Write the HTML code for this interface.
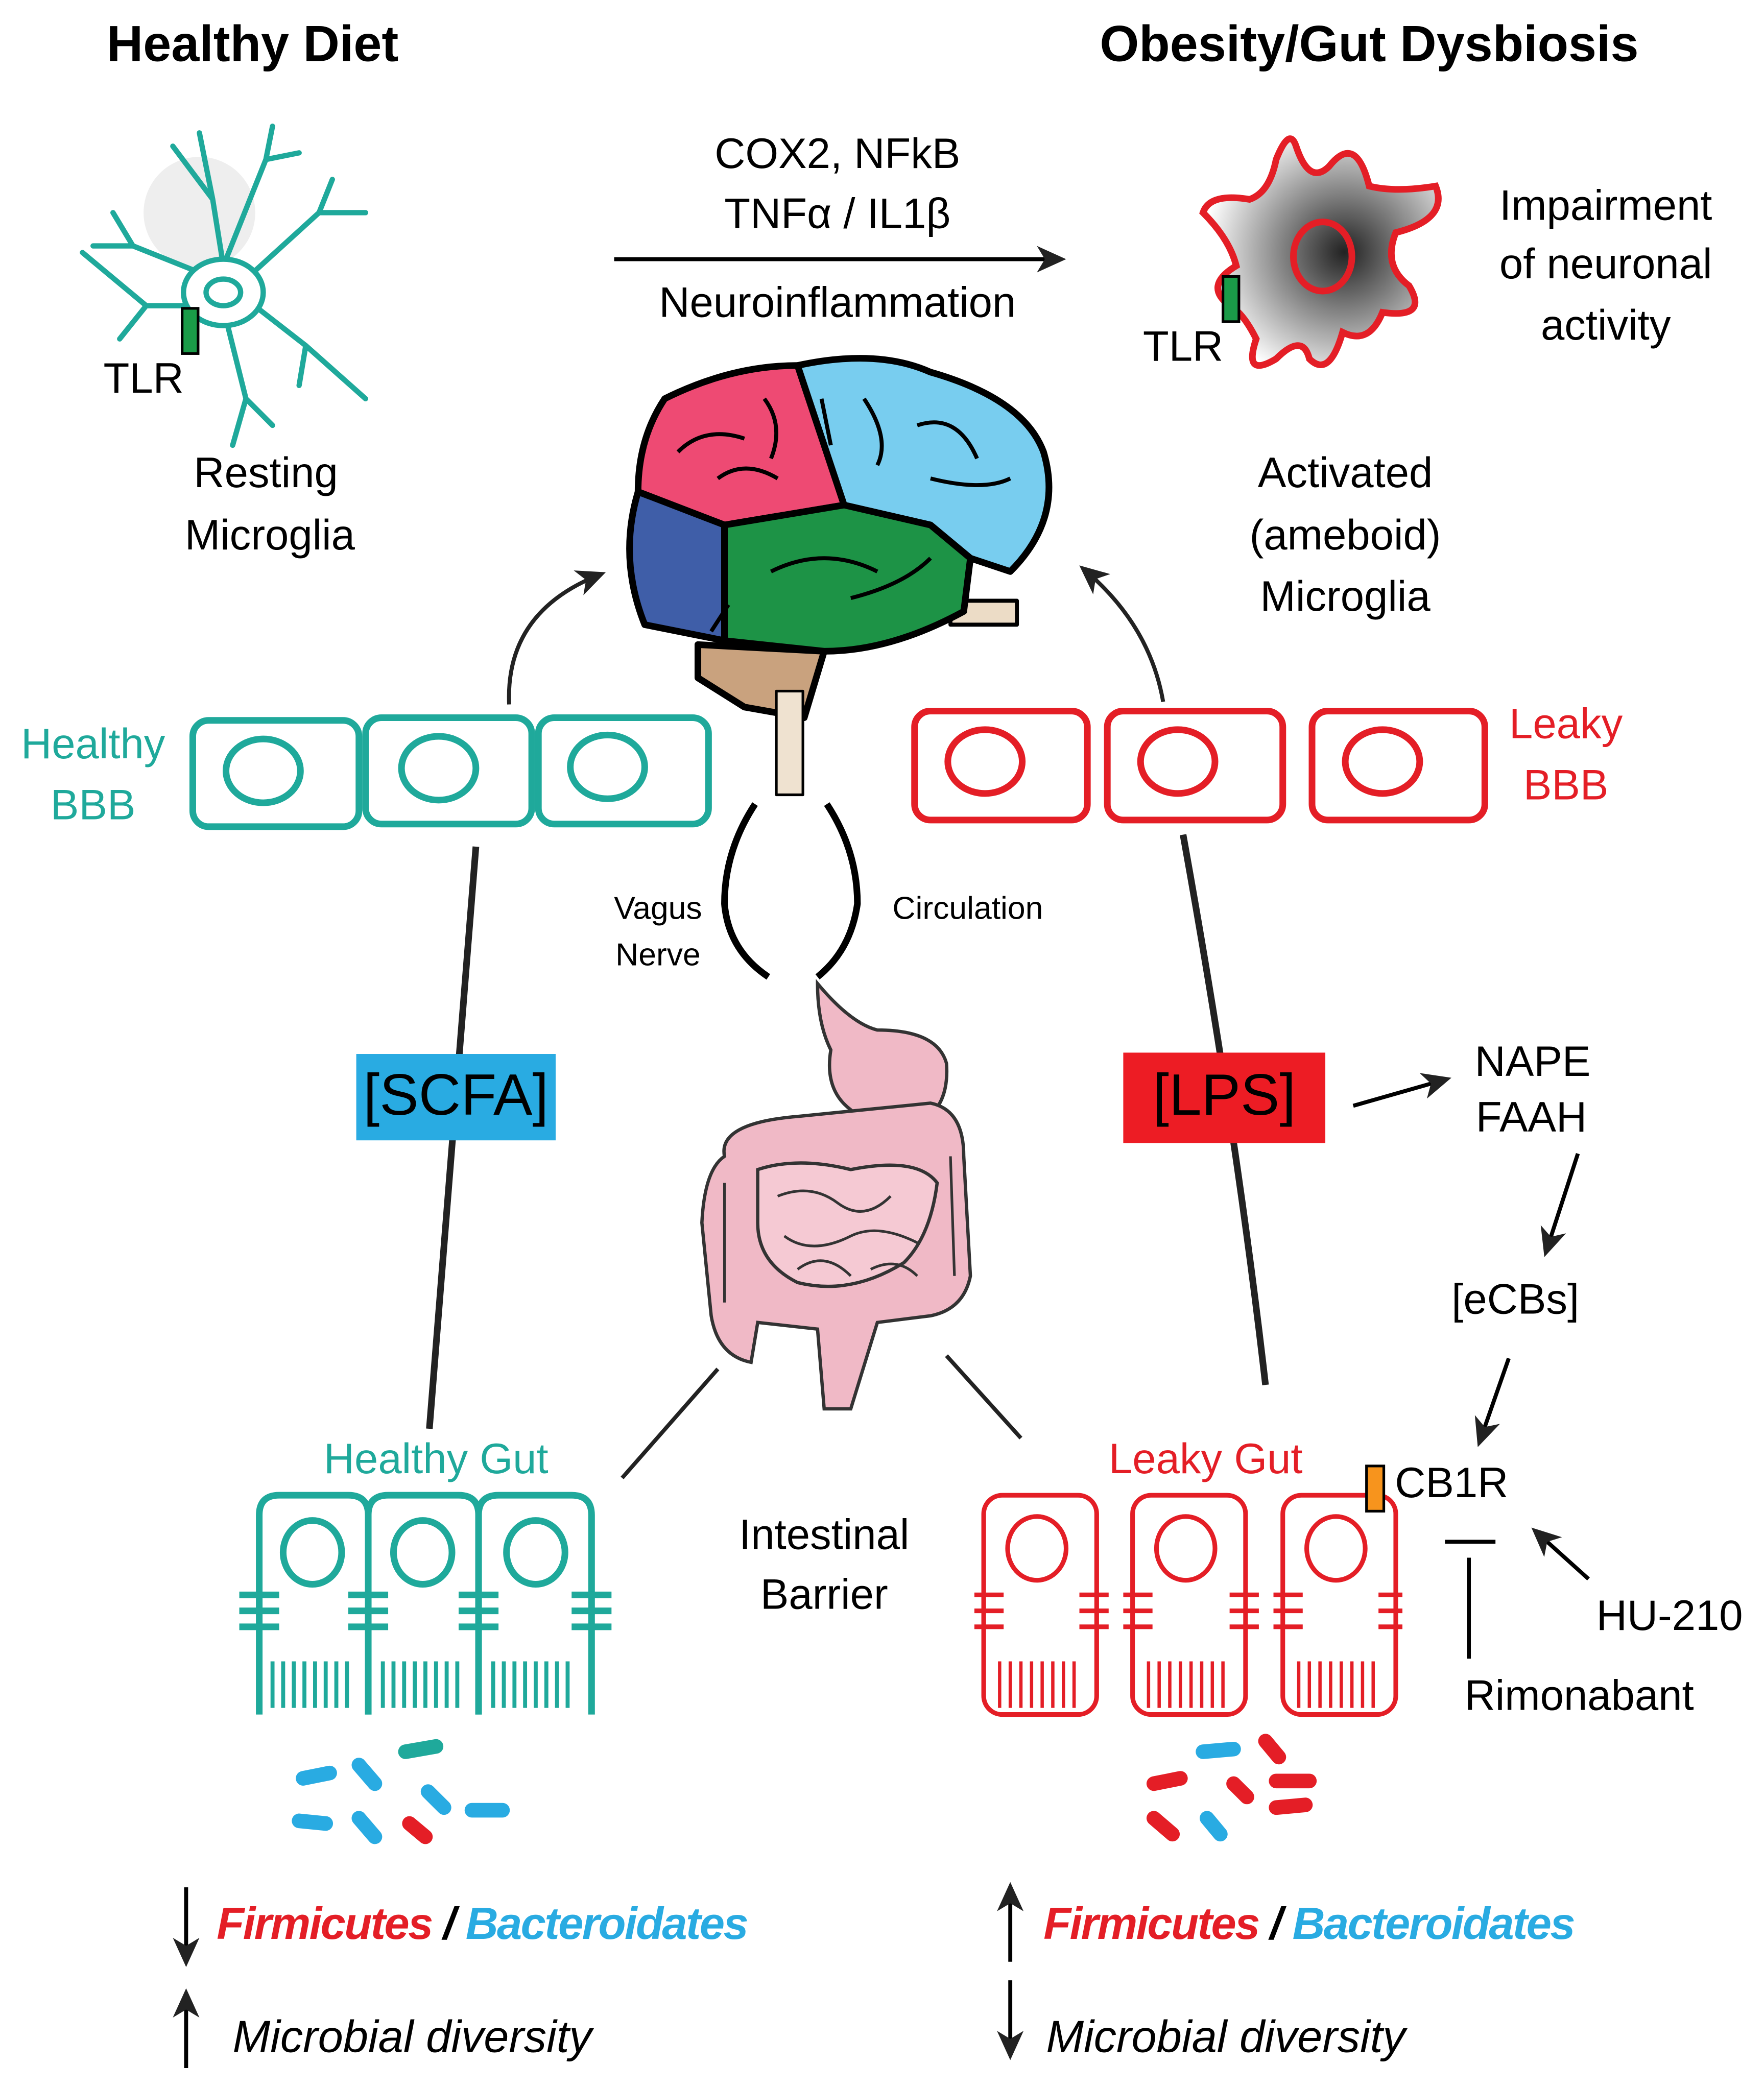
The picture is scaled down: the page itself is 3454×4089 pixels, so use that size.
<!DOCTYPE html>
<html><head><meta charset="utf-8"><style>html,body{margin:0;padding:0;background:#fff}svg{display:block}text{font-family:"Liberation Sans",sans-serif}</style></head><body>
<svg width="3454" height="4089" viewBox="0 0 1327 1571" xmlns="http://www.w3.org/2000/svg">
<defs>
<marker id="ah2" markerWidth="22" markerHeight="22" refX="18" refY="11" orient="auto" markerUnits="userSpaceOnUse" viewBox="0 0 22 22"><path d="M0,1 L22,11 L0,21 L6,11 z" fill="#222"/></marker>
<radialGradient id="gg" cx="0.6" cy="0.5" r="0.6"><stop offset="0" stop-color="#222"/><stop offset="1" stop-color="#fff"/></radialGradient>
</defs>
<g fill="#000">
<text x="190" y="46" font-size="38" font-weight="bold" text-anchor="middle">Healthy Diet</text>
<text x="1030" y="46" font-size="38" font-weight="bold" text-anchor="middle">Obesity/Gut Dysbiosis</text>
<g font-size="32" text-anchor="middle" dominant-baseline="middle">
<text x="630" y="118">COX2, NFkB</text>
<text x="630" y="163">TNFα / IL1β</text>
<text x="630" y="230">Neuroinflammation</text>
<text x="108" y="287">TLR</text>
<text x="200" y="358">Resting</text><text x="203" y="405">Microglia</text>
<text x="890" y="263">TLR</text>
<text x="1208" y="157">Impairment</text><text x="1208" y="201">of neuronal</text><text x="1208" y="247">activity</text>
<text x="1012" y="358">Activated</text><text x="1012" y="405">(ameboid)</text><text x="1012" y="451">Microglia</text>
<text x="620" y="1157">Intestinal</text><text x="620" y="1202">Barrier</text>
<text x="1153" y="801">NAPE</text><text x="1152" y="843">FAAH</text>
<text x="1140" y="980">[eCBs]</text>
<text x="1092" y="1118">CB1R</text>
<text x="1256" y="1218">HU-210</text>
<text x="1188" y="1278">Rimonabant</text>
</g>
<g font-size="24" text-anchor="middle" dominant-baseline="middle">
<text x="495" y="685">Vagus</text><text x="495" y="720">Nerve</text>
<text x="728" y="685">Circulation</text>
</g>
</g>
<line x1="462" y1="195" x2="798" y2="195" stroke="#000" stroke-width="3" marker-end="url(#ah2)"/>
<g stroke="#1fa99b" stroke-width="4" fill="none" stroke-linecap="round">
<circle cx="150" cy="160" r="42" fill="#eee" stroke="none"/>
<path d="M168,200 L160,150 L130,110 M160,150 L150,100 M168,200 L200,120 L205,95 M200,120 L225,115 M185,210 L240,160 L275,160 M240,160 L250,135 M185,225 L230,260 L275,300 M230,260 L225,290 M170,240 L185,300 L175,335 M185,300 L205,320 M155,230 L110,230 L62,190 M110,230 L90,255 M150,205 L100,185 L85,160 M100,185 L70,185"/>
<ellipse cx="168" cy="220" rx="30" ry="25" fill="#fff"/>
<ellipse cx="168" cy="220" rx="13" ry="10"/>
</g>
<rect x="137" y="232" width="12" height="34" fill="#1a9b48" stroke="#000" stroke-width="2"/>
<path d="M960,120 Q970,95 975,110 Q985,140 1000,125 Q1020,100 1030,140 Q1050,145 1080,140 Q1090,165 1050,175 Q1040,200 1060,215 Q1075,240 1040,235 Q1030,260 1010,250 Q1000,285 985,270 Q980,250 960,270 Q935,285 945,255 Q935,235 925,230 Q905,215 930,200 Q925,180 905,160 Q910,145 940,150 Q955,145 960,120 Z" fill="url(#gg)" stroke="#e41e26" stroke-width="5"/>
<ellipse cx="995" cy="193" rx="22" ry="26" fill="none" stroke="#e41e26" stroke-width="5"/>
<rect x="920" y="208" width="12" height="34" fill="#1a9b48" stroke="#000" stroke-width="2"/>
<g stroke="#000" stroke-width="5" stroke-linejoin="round">
<path d="M525,485 L620,490 L605,540 L560,532 L525,510 Z" fill="#c9a27e"/>
<rect x="584" y="520" width="20" height="78" fill="#efe2d0" stroke-width="2"/>
<rect x="715" y="452" width="50" height="18" fill="#ecdcc6" stroke-width="3"/>
<path d="M500,300 Q550,275 600,275 L635,380 L545,395 L480,370 Q480,330 500,300 Z" fill="#ee4a73"/>
<path d="M600,275 Q660,262 700,280 Q770,300 785,340 Q800,390 760,430 L730,420 L700,395 L635,380 Z" fill="#78cdef"/>
<path d="M480,370 L545,395 L545,482 L485,470 Q465,420 480,370 Z" fill="#3f5ea8"/>
<path d="M545,395 L635,380 L700,395 L730,420 L725,460 Q670,490 620,490 L545,482 Z" fill="#1d9346"/>
</g>
<g stroke="#000" stroke-width="3" fill="none">
<path d="M510,340 Q530,320 560,330 M540,360 Q560,345 585,360 M575,300 Q590,320 580,345 M650,300 Q670,330 660,350 M690,320 Q720,310 735,345 M700,360 Q740,370 760,360 M580,430 Q620,410 660,430 M640,450 Q680,440 700,420 M548,455 L535,475 M625,335 L618,300"/>
</g>
<path d="M383,530 Q380,460 452,432" fill="none" stroke="#222" stroke-width="3" marker-end="url(#ah2)"/>
<path d="M875,528 Q865,470 815,428" fill="none" stroke="#222" stroke-width="3" marker-end="url(#ah2)"/>
<g fill="none" stroke="#1fa99b" stroke-width="5">
<rect x="145" y="542" width="125" height="80" rx="12"/><rect x="275" y="540" width="125" height="80" rx="12"/><rect x="405" y="540" width="128" height="80" rx="12"/>
<ellipse cx="198" cy="580" rx="28" ry="24"/><ellipse cx="330" cy="578" rx="28" ry="24"/><ellipse cx="457" cy="577" rx="28" ry="24"/>
</g>
<g fill="none" stroke="#e41e26" stroke-width="5">
<rect x="688" y="535" width="130" height="82" rx="12"/><rect x="833" y="535" width="132" height="82" rx="12"/><rect x="987" y="535" width="130" height="82" rx="12"/>
<ellipse cx="741" cy="573" rx="28" ry="24"/><ellipse cx="886" cy="573" rx="28" ry="24"/><ellipse cx="1040" cy="573" rx="28" ry="24"/>
</g>
<g font-size="32" text-anchor="middle" dominant-baseline="middle">
<text x="70" y="562" fill="#1fa99b">Healthy</text><text x="70" y="608" fill="#1fa99b">BBB</text>
<text x="1178" y="547" fill="#e41e26">Leaky</text><text x="1178" y="593" fill="#e41e26">BBB</text>
<text x="328" y="1100" fill="#1fa99b">Healthy Gut</text>
<text x="907" y="1100" fill="#e41e26">Leaky Gut</text>
</g>
<path d="M358,637 Q340,850 323,1075" fill="none" stroke="#222" stroke-width="5"/>
<path d="M890,628 Q930,850 952,1042" fill="none" stroke="#222" stroke-width="5"/>
<rect x="268" y="793" width="150" height="65" fill="#29abe2"/>
<text x="343" y="827" font-size="44" text-anchor="middle" dominant-baseline="middle">[SCFA]</text>
<rect x="845" y="792" width="152" height="68" fill="#ed1c24"/>
<text x="921" y="827" font-size="44" text-anchor="middle" dominant-baseline="middle">[LPS]</text>
<g fill="none" stroke="#000" stroke-width="5">
<path d="M568,605 Q545,640 545,680 Q548,715 578,735"/>
<path d="M622,605 Q645,640 645,680 Q640,715 615,735"/>
</g>
<g stroke="#333" stroke-width="2.5" fill="#f0b9c6">
<path d="M615,740 Q640,770 660,775 Q705,775 712,800 Q715,840 680,850 Q650,845 640,835 Q620,820 625,790 Q615,770 615,740 Z"/>
<path d="M545,870 Q540,845 600,840 L700,830 Q725,835 725,870 L730,960 Q725,985 700,990 L660,995 L640,1060 L620,1060 L615,1000 L570,995 L565,1025 Q540,1020 535,990 L528,920 Q530,880 545,870 Z"/>
<path d="M570,880 Q600,870 640,880 Q690,870 705,890 Q700,930 680,950 Q640,975 600,965 Q570,950 570,920 Z" fill="#f5c9d3"/>
</g>
<g fill="none" stroke="#333" stroke-width="2">
<path d="M585,900 Q610,890 630,905 Q650,920 670,900 M590,930 Q610,945 640,930 Q660,920 690,935 M600,955 Q620,940 640,960 M655,955 Q675,945 690,960 M545,890 L545,980 M715,870 L718,960"/>
</g>
<line x1="540" y1="1030" x2="468" y2="1112" stroke="#222" stroke-width="3"/>
<line x1="712" y1="1020" x2="768" y2="1082" stroke="#222" stroke-width="3"/>
<g fill="none" stroke="#1fa99b" stroke-width="5">
<path d="M195,1290 L195,1140 Q195,1125 210,1125 L262,1125 Q277,1125 277,1140 L277,1290"/>
<path d="M277,1290 L277,1140 Q277,1125 292,1125 L345,1125 Q360,1125 360,1140 L360,1290"/>
<path d="M360,1290 L360,1140 Q360,1125 375,1125 L430,1125 Q445,1125 445,1140 L445,1290"/>
<ellipse cx="235" cy="1168" rx="22" ry="24"/><ellipse cx="318" cy="1168" rx="22" ry="24"/><ellipse cx="403" cy="1168" rx="22" ry="24"/>
<path d="M180,1200 h30 M180,1212 h30 M180,1224 h30 M262,1200 h30 M262,1212 h30 M262,1224 h30 M345,1200 h30 M345,1212 h30 M345,1224 h30 M430,1200 h30 M430,1212 h30 M430,1224 h30"/>
<path d="M205,1250 v35 M213,1250 v35 M221,1250 v35 M229,1250 v35 M237,1250 v35 M245,1250 v35 M253,1250 v35 M261,1250 v35 M288,1250 v35 M296,1250 v35 M304,1250 v35 M312,1250 v35 M320,1250 v35 M328,1250 v35 M336,1250 v35 M344,1250 v35 M371,1250 v35 M379,1250 v35 M387,1250 v35 M395,1250 v35 M403,1250 v35 M411,1250 v35 M419,1250 v35 M427,1250 v35" stroke-width="3"/>
</g>
<g fill="none" stroke="#e41e26" stroke-width="3.5">
<rect x="740" y="1125" width="85" height="165" rx="14"/><rect x="852" y="1125" width="85" height="165" rx="14"/><rect x="965" y="1125" width="85" height="165" rx="14"/>
<ellipse cx="780" cy="1165" rx="22" ry="24"/><ellipse cx="892" cy="1165" rx="22" ry="24"/><ellipse cx="1005" cy="1165" rx="22" ry="24"/>
<path d="M733,1200 h22 M733,1212 h22 M733,1224 h22 M812,1200 h22 M812,1212 h22 M812,1224 h22 M845,1200 h22 M845,1212 h22 M845,1224 h22 M925,1200 h22 M925,1212 h22 M925,1224 h22 M958,1200 h22 M958,1212 h22 M958,1224 h22 M1037,1200 h18 M1037,1212 h18 M1037,1224 h18"/>
<path d="M752,1250 v35 M760,1250 v35 M768,1250 v35 M776,1250 v35 M784,1250 v35 M792,1250 v35 M800,1250 v35 M808,1250 v35 M864,1250 v35 M872,1250 v35 M880,1250 v35 M888,1250 v35 M896,1250 v35 M904,1250 v35 M912,1250 v35 M920,1250 v35 M977,1250 v35 M985,1250 v35 M993,1250 v35 M1001,1250 v35 M1009,1250 v35 M1017,1250 v35 M1025,1250 v35 M1033,1250 v35" stroke-width="2.5"/>
</g>
<rect x="1028" y="1103" width="13" height="34" fill="#f7941d" stroke="#000" stroke-width="2"/>
<g stroke-linecap="round" stroke-width="11" fill="none">
<path d="M228,1338 L248,1334" stroke="#29abe2"/><path d="M270,1328 L282,1342" stroke="#29abe2"/><path d="M305,1318 L328,1314" stroke="#1fa99b"/>
<path d="M322,1348 L334,1360" stroke="#29abe2"/><path d="M355,1362 L378,1362" stroke="#29abe2"/><path d="M225,1370 L245,1372" stroke="#29abe2"/>
<path d="M270,1368 L282,1382" stroke="#29abe2"/><path d="M308,1372 L320,1382" stroke="#e41e26"/>
<path d="M868,1342 L888,1338" stroke="#e41e26"/><path d="M905,1318 L928,1316" stroke="#29abe2"/><path d="M952,1310 L962,1322" stroke="#e41e26"/>
<path d="M928,1342 L938,1352" stroke="#e41e26"/><path d="M960,1340 L985,1340" stroke="#e41e26"/><path d="M868,1368 L882,1380" stroke="#e41e26"/>
<path d="M908,1368 L918,1380" stroke="#29abe2"/><path d="M960,1360 L982,1358" stroke="#e41e26"/>
</g>
<g stroke="#000" stroke-width="3" fill="none">
<line x1="1018" y1="832" x2="1088" y2="812" marker-end="url(#ah2)"/>
<line x1="1187" y1="868" x2="1163" y2="942" marker-end="url(#ah2)"/>
<line x1="1135" y1="1022" x2="1113" y2="1085" marker-end="url(#ah2)"/>
<line x1="1195" y1="1188" x2="1155" y2="1152" marker-end="url(#ah2)"/>
<line x1="1087" y1="1160" x2="1125" y2="1160"/>
<line x1="1105" y1="1172" x2="1105" y2="1248"/>
<line x1="140" y1="1420" x2="140" y2="1476" marker-end="url(#ah2)"/>
<line x1="140" y1="1556" x2="140" y2="1500" marker-end="url(#ah2)"/>
<line x1="760" y1="1476" x2="760" y2="1420" marker-end="url(#ah2)"/>
<line x1="760" y1="1490" x2="760" y2="1546" marker-end="url(#ah2)"/>
</g>
<g font-size="34" font-weight="bold" font-style="italic" dominant-baseline="middle" letter-spacing="-1">
<text x="163" y="1450"><tspan fill="#e41e26">Firmicutes</tspan><tspan fill="#000"> / </tspan><tspan fill="#29abe2">Bacteroidates</tspan></text>
<text x="785" y="1450"><tspan fill="#e41e26">Firmicutes</tspan><tspan fill="#000"> / </tspan><tspan fill="#29abe2">Bacteroidates</tspan></text>
</g>
<g font-size="34" font-style="italic" dominant-baseline="middle">
<text x="175" y="1535">Microbial diversity</text>
<text x="787" y="1535">Microbial diversity</text>
</g>
</svg>
</body></html>
